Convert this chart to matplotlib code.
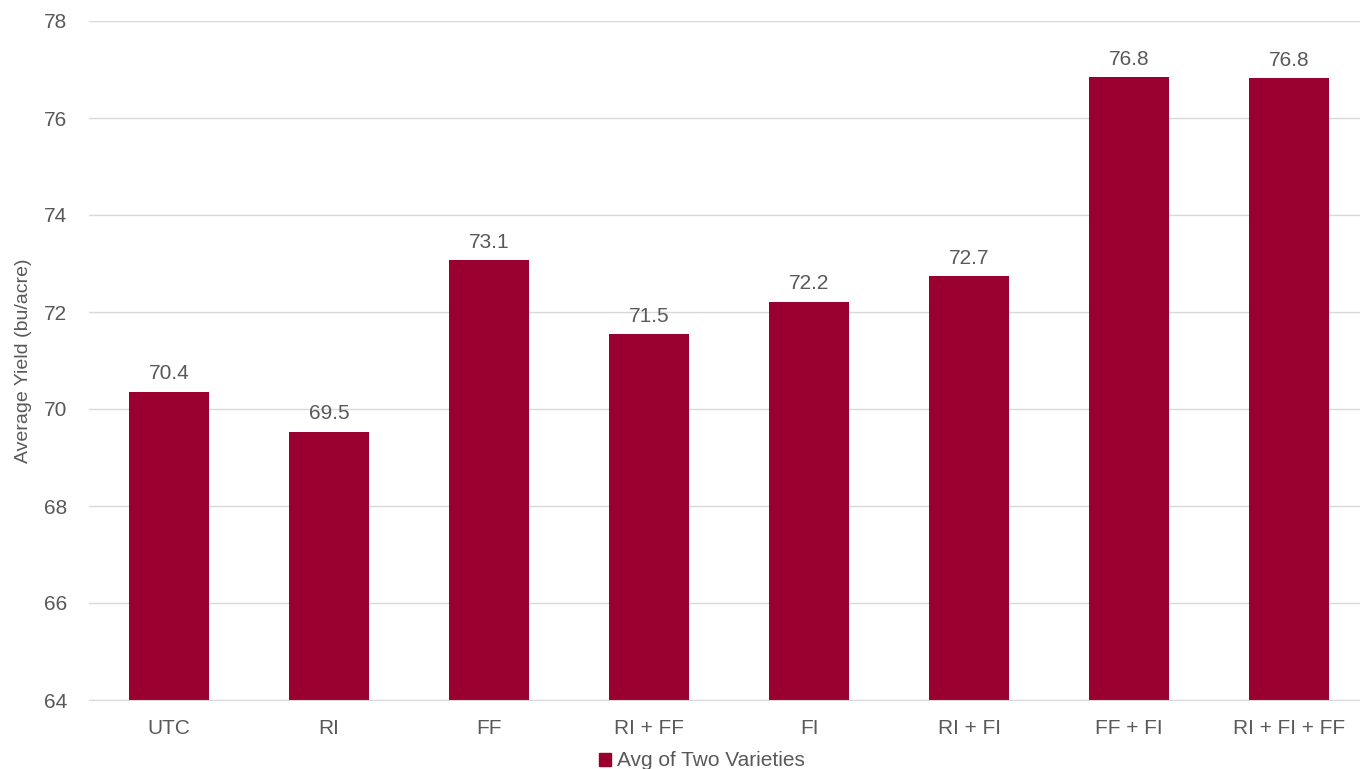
import matplotlib
matplotlib.use("Agg")
import matplotlib.pyplot as plt
from matplotlib.patches import Patch

categories = ["UTC", "RI", "FF", "RI + FF", "FI", "RI + FI", "FF + FI", "RI + FI + FF"]
values = [70.36, 69.53, 73.07, 71.54, 72.21, 72.74, 76.84, 76.82]
yticks = [64, 66, 68, 70, 72, 74, 76, 78]
series_name = "Avg of Two Varieties"

bar_color = "#990030"
text_color = "#595959"
grid_color = "#d9d9d9"

plt.rcParams["font.family"] = ["Liberation Sans", "DejaVu Sans"]

fig = plt.figure(figsize=(13.6, 7.69), dpi=100)
ax = fig.add_axes([89 / 1360, 69 / 769, 1280 / 1360, 679 / 769])

x = list(range(len(categories)))
bars = ax.bar(x, values, width=0.5, color=bar_color, zorder=3)
ax.bar_label(bars, labels=[f"{v:.1f}" for v in values], padding=6,
             fontsize=15, color=text_color)

ax.set_xlim(-0.5, len(categories) - 0.5)
ax.set_ylim(64, 78)
ax.set_yticks(yticks)
ax.set_yticklabels([str(t) for t in yticks])
ax.set_xticks(x)
ax.set_xticklabels(categories)
ax.tick_params(axis="both", length=0, labelsize=15, colors=text_color)
ax.tick_params(axis="y", pad=16)
ax.tick_params(axis="x", pad=14)
ax.yaxis.grid(True, color=grid_color, linewidth=1, zorder=0)
for s in ["top", "right", "left"]:
    ax.spines[s].set_visible(False)
ax.spines["bottom"].set_color(grid_color)
ax.spines["bottom"].set_zorder(4)

ax.set_ylabel("Average Yield (bu/acre)", fontsize=14, color=text_color, labelpad=8)

fig.legend(handles=[Patch(color=bar_color, label=series_name)], loc="center",
           bbox_to_anchor=(702 / 1360, 8 / 769), frameon=False, fontsize=15,
           handlelength=0.6, handleheight=0.6, handletextpad=0.3,
           labelcolor=text_color)

fig.savefig("out.png", dpi=100)
